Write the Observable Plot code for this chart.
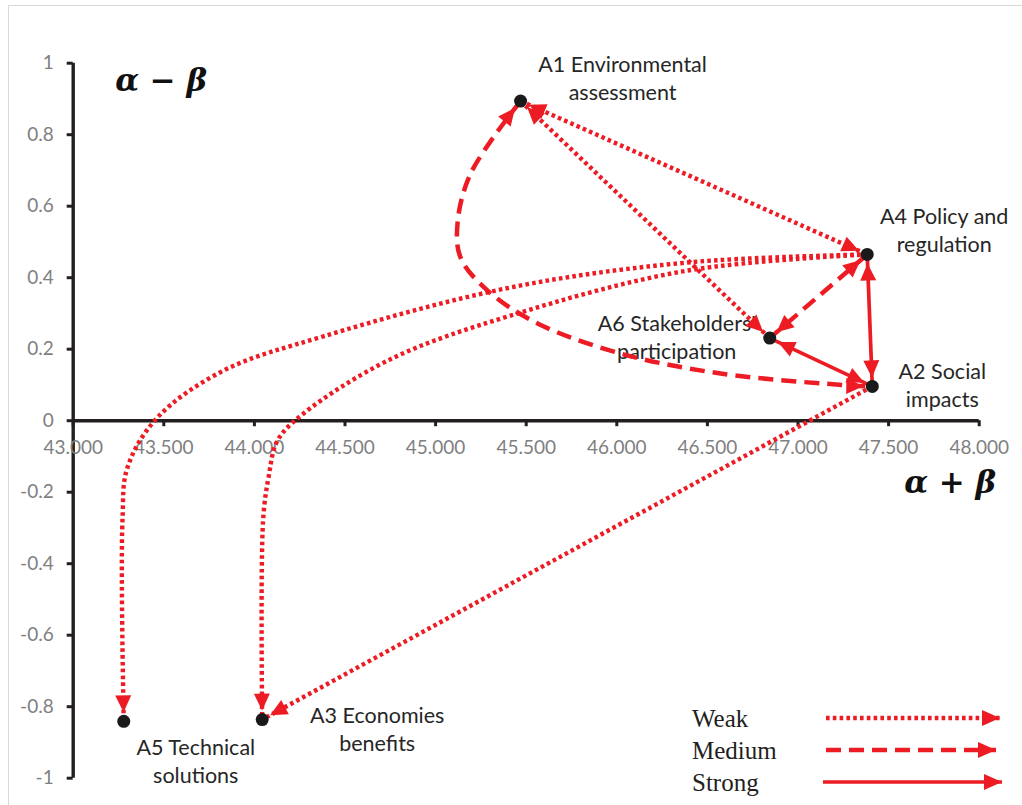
<!DOCTYPE html>
<html>
<head>
<meta charset="utf-8">
<script src="https://cdn.jsdelivr.net/npm/d3@7"></script>
<script src="https://cdn.jsdelivr.net/npm/@observablehq/plot@0.6"></script>
<style>
  body { margin: 0; background: #fff; }
  #wrap { position: relative; width: 1022px; height: 805px; overflow: hidden; background: #fff; }
  #wrap > svg { position: absolute; left: 0; top: 0; }
  #border { position: absolute; left: 8px; top: 5px; right: -10px; bottom: -10px;
            border-left: 1.5px solid #d9d9d9; border-top: 1.5px solid #d9d9d9; pointer-events: none; }
</style>
</head>
<body>
<div id="wrap"><div id="border"></div></div>
<script>
// ---------- data ----------
const nodeIds = ["A1", "A2", "A3", "A4", "A5", "A6"];
const nodeX = [45.469, 47.410, 44.043, 47.382, 43.279, 46.844];
const nodeY = [0.894, 0.096, -0.836, 0.465, -0.841, 0.231];
const nodeLabels = [
  "A1 Environmental\nassessment",
  "A2 Social\nimpacts",
  "A3 Economies\nbenefits",
  "A4 Policy and\nregulation",
  "A5 Technical\nsolutions",
  "A6 Stakeholders'\nparticipation"
];

const edgeFrom     = ["A1", "A1", "A1", "A4", "A4", "A6", "A4", "A4", "A2"];
const edgeTo       = ["A4", "A6", "A2", "A6", "A2", "A2", "A5", "A3", "A3"];
const edgeStrength = ["Weak", "Weak", "Medium", "Medium", "Strong", "Strong", "Weak", "Weak", "Weak"];
const edgeBothWays = [true, true, true, true, true, true, false, false, false];

// intermediate points of the curved links
const curveA1A2x = [45.193, 45.121, 45.138, 45.287, 45.563, 46.021, 46.573, 47.307];
const curveA1A2y = [0.691, 0.552, 0.456, 0.364, 0.272, 0.188, 0.132, 0.098];
const curveA4A5x = [46.390, 45.413, 44.381, 43.829, 43.465, 43.300, 43.272];
const curveA4A5y = [0.4425, 0.3726, 0.236, 0.140, 0.009, -0.130, -0.279];
const curveA4A3x = [46.390, 45.413, 44.751, 44.271, 44.128, 44.078, 44.048];
const curveA4A3y = [0.420, 0.294, 0.172, 0.020, -0.055, -0.159, -0.279];

const xTicks = [43, 43.5, 44, 44.5, 45, 45.5, 46, 46.5, 47, 47.5, 48];
const xTickLabels = ["43.000", "43.500", "44.000", "44.500", "45.000", "45.500", "46.000", "46.500", "47.000", "47.500", "48.000"];
const yTicks = [-1, -0.8, -0.6, -0.4, -0.2, 0, 0.2, 0.4, 0.6, 0.8, 1];
const yTickLabels = ["-1", "-0.8", "-0.6", "-0.4", "-0.2", "0", "0.2", "0.4", "0.6", "0.8", "1"];

const legendLabels = ["Weak", "Medium", "Strong"];
const yTitle = "α − β";
const xTitle = "α + β";

// ---------- build tables ----------
const red = "#ED1C24";
const ink = "#231f20";
const textColor = "#262626";
const gray = "#7f7f7f";
const labelFont = "Lato, 'Open Sans', sans-serif";

const nodes = nodeIds.map((id, i) => ({id, x: nodeX[i], y: nodeY[i], label: nodeLabels[i]}));
const nodeIndex = new Map(nodeIds.map((id, i) => [id, i]));
const curveVia = {
  "A1-A2": [curveA1A2x, curveA1A2y],
  "A4-A5": [curveA4A5x, curveA4A5y],
  "A4-A3": [curveA4A3x, curveA4A3y]
};
const rows = [];
edgeFrom.forEach((f, i) => {
  const t = edgeTo[i];
  const a = nodeIndex.get(f), b = nodeIndex.get(t);
  const pts = [[nodeX[a], nodeY[a]]];
  const via = curveVia[f + "-" + t];
  if (via) via[0].forEach((x, k) => pts.push([x, via[1][k]]));
  pts.push([nodeX[b], nodeY[b]]);
  pts.forEach(([x, y]) => rows.push({edge: i, strength: edgeStrength[i], both: edgeBothWays[i], x, y}));
});

const strokeStyles = {
  Weak:   {strokeWidth: 4.4, strokeDasharray: "3.6,3.2"},
  Medium: {strokeWidth: 4.5, strokeDasharray: "15,8"},
  Strong: {strokeWidth: 3.7, strokeDasharray: null}
};

// filled triangular arrow head, tip set back from the node centre
function headMarker(back) {
  return (color, context) => {
    const m = d3.create("svg:marker")
      .attr("viewBox", "-25 -12 50 24")
      .attr("markerUnits", "userSpaceOnUse")
      .attr("markerWidth", 50)
      .attr("markerHeight", 24)
      .attr("refX", back)
      .attr("refY", 0)
      .attr("orient", "auto-start-reverse")
      .attr("overflow", "visible");
    m.append("path").attr("d", "M0,0L-17,-8L-17,8Z").attr("fill", color).attr("stroke", "none");
    return m.node();
  };
}
const head = headMarker(9);

const edgeMarks = [];
for (const s of ["Weak", "Medium", "Strong"]) {
  for (const both of [true, false]) {
    const data = rows.filter(r => r.strength === s && r.both === both);
    if (!data.length) continue;
    edgeMarks.push(Plot.line(data, {
      x: "x", y: "y", z: "edge",
      curve: "catmull-rom",
      stroke: red,
      strokeWidth: strokeStyles[s].strokeWidth,
      strokeDasharray: strokeStyles[s].strokeDasharray,
      strokeLinecap: "butt",
      strokeLinejoin: "round",
      markerEnd: head,
      markerStart: both ? head : null
    }));
  }
}

const labelOffsets = {A1: [102, -24], A2: [70, -2.5], A3: [115, 8.5], A4: [77, -25], A5: [72, 38.5], A6: [-93, -1.7]};
const labelMarks = nodeIds.map(id => Plot.text(nodes.filter(d => d.id === id), {
  x: "x", y: "y", text: "label",
  dx: labelOffsets[id][0], dy: labelOffsets[id][1],
  lineAnchor: "middle", textAnchor: "middle", lineHeight: 1.3,
  fontSize: 21.5, fontFamily: labelFont, fill: textColor
}));

const chart = Plot.plot({
  width: 1022,
  height: 805,
  marginLeft: 72.7,
  marginRight: 43.3,
  marginTop: 62.7,
  marginBottom: 27.3,
  x: {domain: [43, 48], axis: null},
  y: {domain: [-1, 1], axis: null},
  style: {background: "transparent", fontFamily: labelFont},
  marks: [
    // y axis
    Plot.ruleX([43], {y1: -1, y2: 1, stroke: ink, strokeWidth: 3.4}),
    Plot.axisY(yTicks, {
      anchor: "left", label: null, tickSize: 6, tickPadding: 13.5,
      tickFormat: (d, i) => yTickLabels[i],
      stroke: ink, strokeWidth: 3, fill: gray, fontSize: 19, fontFamily: labelFont
    }),
    // x axis drawn at y = 0
    Plot.ruleY([0], {x1: 43, x2: 48, stroke: ink, strokeWidth: 3.4}),
    Plot.ruleX(xTicks, {x: d => d, y1: 0, y2: 0, insetBottom: -6, stroke: ink, strokeWidth: 3}),
    Plot.text(xTicks, {x: d => d, y: 0, dy: 27, text: (d, i) => xTickLabels[i],
      fill: gray, fontSize: 19, fontFamily: labelFont, lineAnchor: "middle"}),
    // axis titles
    Plot.text([yTitle], {frameAnchor: "top-left", dx: 88, dy: 18, text: d => d,
      fontFamily: "'DejaVu Serif', serif", fontWeight: "bold", fontStyle: "italic",
      fontSize: 31, fill: "#111", textAnchor: "middle", lineAnchor: "middle"}),
    Plot.text([xTitle], {frameAnchor: "right", dx: -29, dy: 62, text: d => d,
      fontFamily: "'DejaVu Serif', serif", fontWeight: "bold", fontStyle: "italic",
      fontSize: 31, fill: "#111", textAnchor: "middle", lineAnchor: "middle"}),
    ...labelMarks,
    ...edgeMarks,
    Plot.dot(nodes, {x: "x", y: "y", r: 6.5, fill: "#1a1a1a", stroke: "none"})
  ]
});
document.getElementById("wrap").prepend(chart);

// ---------- legend ----------
const leg = d3.select("#wrap").append("svg")
  .attr("width", 1022).attr("height", 805)
  .style("pointer-events", "none");
const defs = leg.append("defs");
const lm = defs.append("marker").attr("id", "legHead")
  .attr("viewBox", "-25 -12 50 24").attr("markerUnits", "userSpaceOnUse")
  .attr("markerWidth", 50).attr("markerHeight", 24)
  .attr("refX", 0).attr("refY", 0).attr("orient", "auto").attr("overflow", "visible");
lm.append("path").attr("d", "M0,0L-18,-8L-18,8Z").attr("fill", red);
const legRows = [{y: 718, x1: 826, x2: 1000}, {y: 750, x1: 826, x2: 996}, {y: 782, x1: 823, x2: 1002}];
legendLabels.forEach((lab, i) => {
  const st = strokeStyles[lab];
  const r = legRows[i];
  leg.append("text").attr("x", 692).attr("y", r.y + 9).text(lab)
    .attr("font-family", "'Liberation Serif', serif").attr("font-size", 25).attr("fill", ink);
  leg.append("line").attr("x1", r.x1).attr("x2", r.x2).attr("y1", r.y).attr("y2", r.y)
    .attr("stroke", red).attr("stroke-width", st.strokeWidth)
    .attr("stroke-dasharray", st.strokeDasharray)
    .attr("marker-end", "url(#legHead)");
});
</script>
</body>
</html>
